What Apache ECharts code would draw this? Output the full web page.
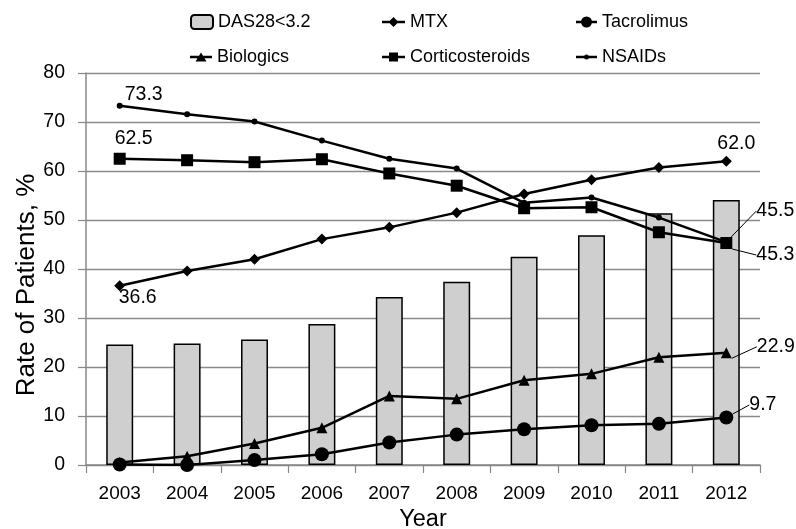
<!DOCTYPE html>
<html><head><meta charset="utf-8">
<script src="https://cdn.jsdelivr.net/npm/echarts@6/dist/echarts.min.js"></script>
<style>html,body{margin:0;padding:0;background:#fff}#c{width:796px;height:529px}</style>
</head><body><div id="c"></div>
<script>
const years = ['2003','2004','2005','2006','2007','2008','2009','2010','2011','2012'];
const das28 = [24.6,24.8,25.6,28.8,34.3,37.4,42.5,46.9,51.4,54.1];
const mtx = [36.6,39.6,42.0,46.1,48.5,51.5,55.3,58.2,60.7,62.0];
const tacrolimus = [0.1,0.0,1.0,2.2,4.6,6.2,7.3,8.1,8.4,9.7];
const biologics = [0.5,1.8,4.4,7.6,14.1,13.5,17.3,18.6,22.0,22.9];
const corticosteroids = [62.5,62.2,61.8,62.4,59.5,57.0,52.4,52.6,47.5,45.3];
const nsaids = [73.3,71.6,70.1,66.2,62.5,60.5,53.5,54.6,50.5,45.5];

const FONT = "'Liberation Sans', Arial, sans-serif";
const lbl = {color:'#000', fontSize:19.5, fontFamily:FONT};
const last = years.length - 1;

// label placement per data index: [position, dx, dy, showGuide]
function withLabels(arr, map) {
  return arr.map((v,i)=> map[i] ? {
    value:v,
    label:Object.assign({show:true, position:map[i][0], formatter: v.toFixed(1)}, lbl),
    labelLine:{show:!!map[i][3], lineStyle:{color:'#000', width:1}}
  } : v);
}
function lineSeries(name, data, symbol, size, map) {
  return {
    name, type:'line', data: withLabels(data, map),
    symbol, symbolSize:size, z:3,
    lineStyle:{color:'#000', width:2.5},
    itemStyle:{color:'#000'},
    labelLine:{show:true, lineStyle:{color:'#000', width:1}},
    labelLayout: p => map[p.dataIndex] ? {dx:map[p.dataIndex][1], dy:map[p.dataIndex][2]} : {},
    emphasis:{disabled:true}
  };
}
// legend icons: line + marker
function lineP(w){ return `M0,5.75 L${w},5.75 L${w},8.25 L0,8.25 Z`; }
function iconDiamond(w){ const c=w/2; return 'path://'+lineP(w)+` M${c},2 L${c+5},7 L${c},12 L${c-5},7 Z`; }
function iconCircle(w,r){ const c=w/2; return 'path://'+lineP(w)+` M${c-r},7 A${r},${r} 0 1 1 ${c+r},7 A${r},${r} 0 1 1 ${c-r},7 Z`; }
function iconTri(w){ const c=w/2; return 'path://'+lineP(w)+` M${c},2.5 L${c+5.5},11.5 L${c-5.5},11.5 Z`; }
function iconSq(w){ const c=w/2; return 'path://'+lineP(w)+` M${c-4.5},2.5 L${c+4.5},2.5 L${c+4.5},11.5 L${c-4.5},11.5 Z`; }

const chart = echarts.init(document.getElementById('c'));
function leg(item, left, top, w) {
  return {data:[item], left, top, padding:0, itemWidth:w, itemHeight:14, symbolKeepAspect:true, selectedMode:false,
    textStyle:{fontSize:18, fontFamily:FONT, color:'#000'}};
}
chart.setOption({
  animation:false,
  textStyle:{fontFamily:FONT},
  legend:[
    leg({name:'DAS28<3.2'}, 190, 13, 22),
    leg({name:'MTX', icon:iconDiamond(23)}, 382, 13, 23),
    leg({name:'Tacrolimus', icon:iconCircle(21,5.5)}, 576, 13, 21),
    leg({name:'Biologics', icon:iconTri(22)}, 190, 48, 22),
    leg({name:'Corticosteroids', icon:iconSq(23)}, 382, 48, 23),
    leg({name:'NSAIDs', icon:iconCircle(21,2.5)}, 576, 48, 21)
  ],
  grid:{left:86, right:36, top:73, bottom:64, outerBoundsMode:'none', containLabel:false},
  xAxis:{
    type:'category', data:years, name:'Year', nameLocation:'middle', nameGap:43, nameMoveOverlap:false,
    nameTextStyle:{fontSize:23.5, color:'#000', fontFamily:FONT},
    axisLine:{lineStyle:{color:'#888', width:1.5}},
    axisTick:{show:true, length:8, lineStyle:{color:'#888', width:1.2}},
    axisLabel:{fontSize:19, color:'#000', margin:19, fontFamily:FONT}
  },
  yAxis:{
    type:'value', min:0, max:80, interval:10, name:'Rate of Patients, %', nameLocation:'middle', nameGap:46, nameMoveOverlap:false,
    nameTextStyle:{fontSize:26, color:'#000', fontFamily:FONT, padding:[0,32,0,0]},
    axisLine:{show:true, lineStyle:{color:'#888', width:1.5}},
    axisTick:{show:true, length:8, lineStyle:{color:'#888', width:1.2}},
    axisLabel:{fontSize:19.5, color:'#000', margin:21, fontFamily:FONT},
    splitLine:{lineStyle:{color:'#8a8a8a', width:1.3}}
  },
  series:[
    {name:'DAS28<3.2', type:'bar', data:das28, barWidth:'40%', z:2,
     itemStyle:{color:'#cfcfcf', borderColor:'#000', borderWidth:1.5}, emphasis:{disabled:true}},
    lineSeries('MTX', mtx, 'diamond', 11, {0:['bottom',18,-9,false], [last]:['top',10,2.5,false]}),
    lineSeries('Tacrolimus', tacrolimus, 'circle', 14, {[last]:['right',11,-12.5,true]}),
    lineSeries('Biologics', biologics, 'triangle', 11, {[last]:['right',20,-6,true]}),
    lineSeries('Corticosteroids', corticosteroids, 'rect', 12, {0:['top',14,1,false], [last]:['right',19,12,true]}),
    lineSeries('NSAIDs', nsaids, 'circle', 6, {0:['top',24,7,false], [last]:['right',22,-31,true]})
  ]
});
</script></body></html>
